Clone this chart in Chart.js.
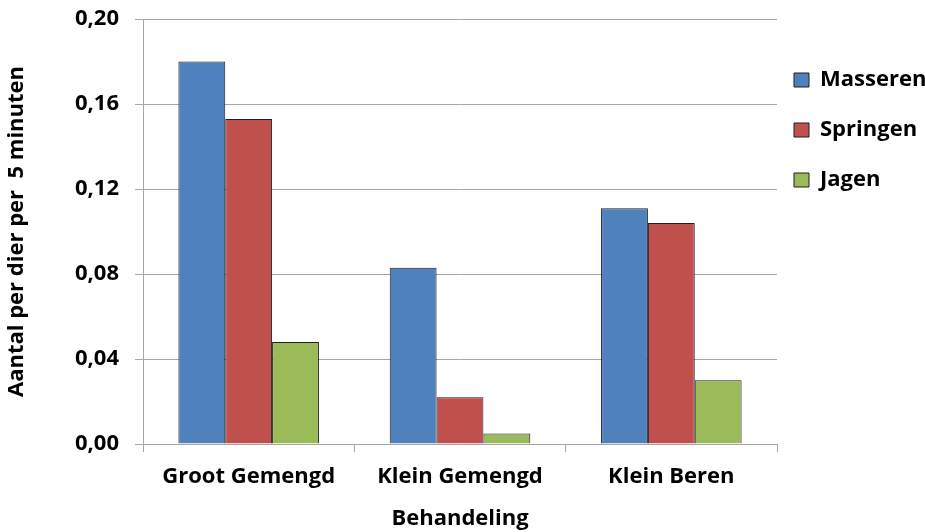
<!DOCTYPE html>
<html>
<head>
<meta charset="utf-8">
<script src="https://cdn.jsdelivr.net/npm/chart.js@4/dist/chart.umd.min.js"></script>
<style>
  html, body { margin: 0; padding: 0; background: #ffffff; }
  #wrap { width: 925px; height: 532px; }
</style>
</head>
<body>
<div id="wrap"><canvas id="chart" width="925" height="532"></canvas></div>
<script>
// Behandelingen (x-as)
const categories = ['Groot Gemengd', 'Klein Gemengd', 'Klein Beren'];

// Gemiddeld aantal per dier per 5 minuten
const masseren = [0.180, 0.083, 0.111];
const springen = [0.153, 0.022, 0.104];
const jagen    = [0.048, 0.005, 0.030];

// Waarden op de y-as
const yTicks = [0, 0.04, 0.08, 0.12, 0.16, 0.20];

const FONT = "'Open Sans', 'Liberation Sans', sans-serif";
const GRID = '#a6a6a6';
const EDGE = '#1e1e1e';

const fmt = v => v.toFixed(2).replace('.', ',');

new Chart(document.getElementById('chart'), {
  type: 'bar',
  data: {
    labels: categories,
    datasets: [
      { label: 'Masseren', data: masseren, backgroundColor: '#4f81bd' },
      { label: 'Springen', data: springen, backgroundColor: '#c0504d' },
      { label: 'Jagen',    data: jagen,    backgroundColor: '#9bbb59' }
    ]
  },
  options: {
    responsive: false,
    devicePixelRatio: 1,
    animation: false,
    layout: { padding: { top: 19, right: 0, bottom: 0, left: 0 } },
    datasets: {
      bar: {
        categoryPercentage: 0.665,
        barPercentage: 1.0,
        borderColor: EDGE,
        borderWidth: 1
      }
    },
    font: { family: FONT, weight: 'bold', size: 22 },
    color: '#000000',
    scales: {
      x: {
        grid: {
          offset: true,
          drawOnChartArea: false,
          drawTicks: true,
          tickLength: 8,
          color: GRID
        },
        border: { display: true, color: GRID, width: 1 },
        ticks: {
          color: '#000000',
          padding: 12,
          font: { family: FONT, weight: 'bold', size: 22 }
        },
        title: {
          display: true,
          text: 'Behandeling',
          color: '#000000',
          font: { family: FONT, weight: 'bold', size: 22 },
          padding: { top: 3, bottom: 0 }
        },
        afterFit: scale => { scale.height = 88; }
      },
      y: {
        min: 0,
        max: 0.2,
        afterBuildTicks: scale => { scale.ticks = yTicks.map(v => ({ value: v })); },
        grid: {
          drawTicks: true,
          tickLength: 8,
          color: GRID,
          lineWidth: 1
        },
        border: { display: true, color: GRID, width: 1 },
        ticks: {
          color: '#000000',
          padding: 16,
          font: { family: FONT, weight: 'bold', size: 22 },
          callback: v => fmt(v)
        },
        title: {
          display: true,
          text: 'Aantal per dier per  5 minuten',
          color: '#000000',
          font: { family: FONT, weight: 'bold', size: 22 },
          padding: { top: 4, bottom: 0 }
        },
        afterFit: scale => {
          scale.width = 143;
          scale.paddingTop = 12;
          scale.paddingBottom = 12;
        }
      }
    },
    plugins: {
      tooltip: { enabled: false },
      legend: {
        position: 'right',
        align: 'start',
        maxWidth: 148,
        title: {
          display: true,
          text: '',
          padding: 0,
          font: { size: 10, lineHeight: '33px' }
        },
        labels: {
          color: '#000000',
          boxWidth: 15,
          boxHeight: 14,
          padding: 17,
          font: { family: FONT, weight: 'bold', size: 22, lineHeight: '33px' },
          generateLabels: chart =>
            Chart.defaults.plugins.legend.labels.generateLabels(chart).map(item => ({
              ...item,
              text: [item.text],
              lineWidth: 1,
              strokeStyle: EDGE
            }))
        }
      }
    }
  }
});
</script>
</body>
</html>
